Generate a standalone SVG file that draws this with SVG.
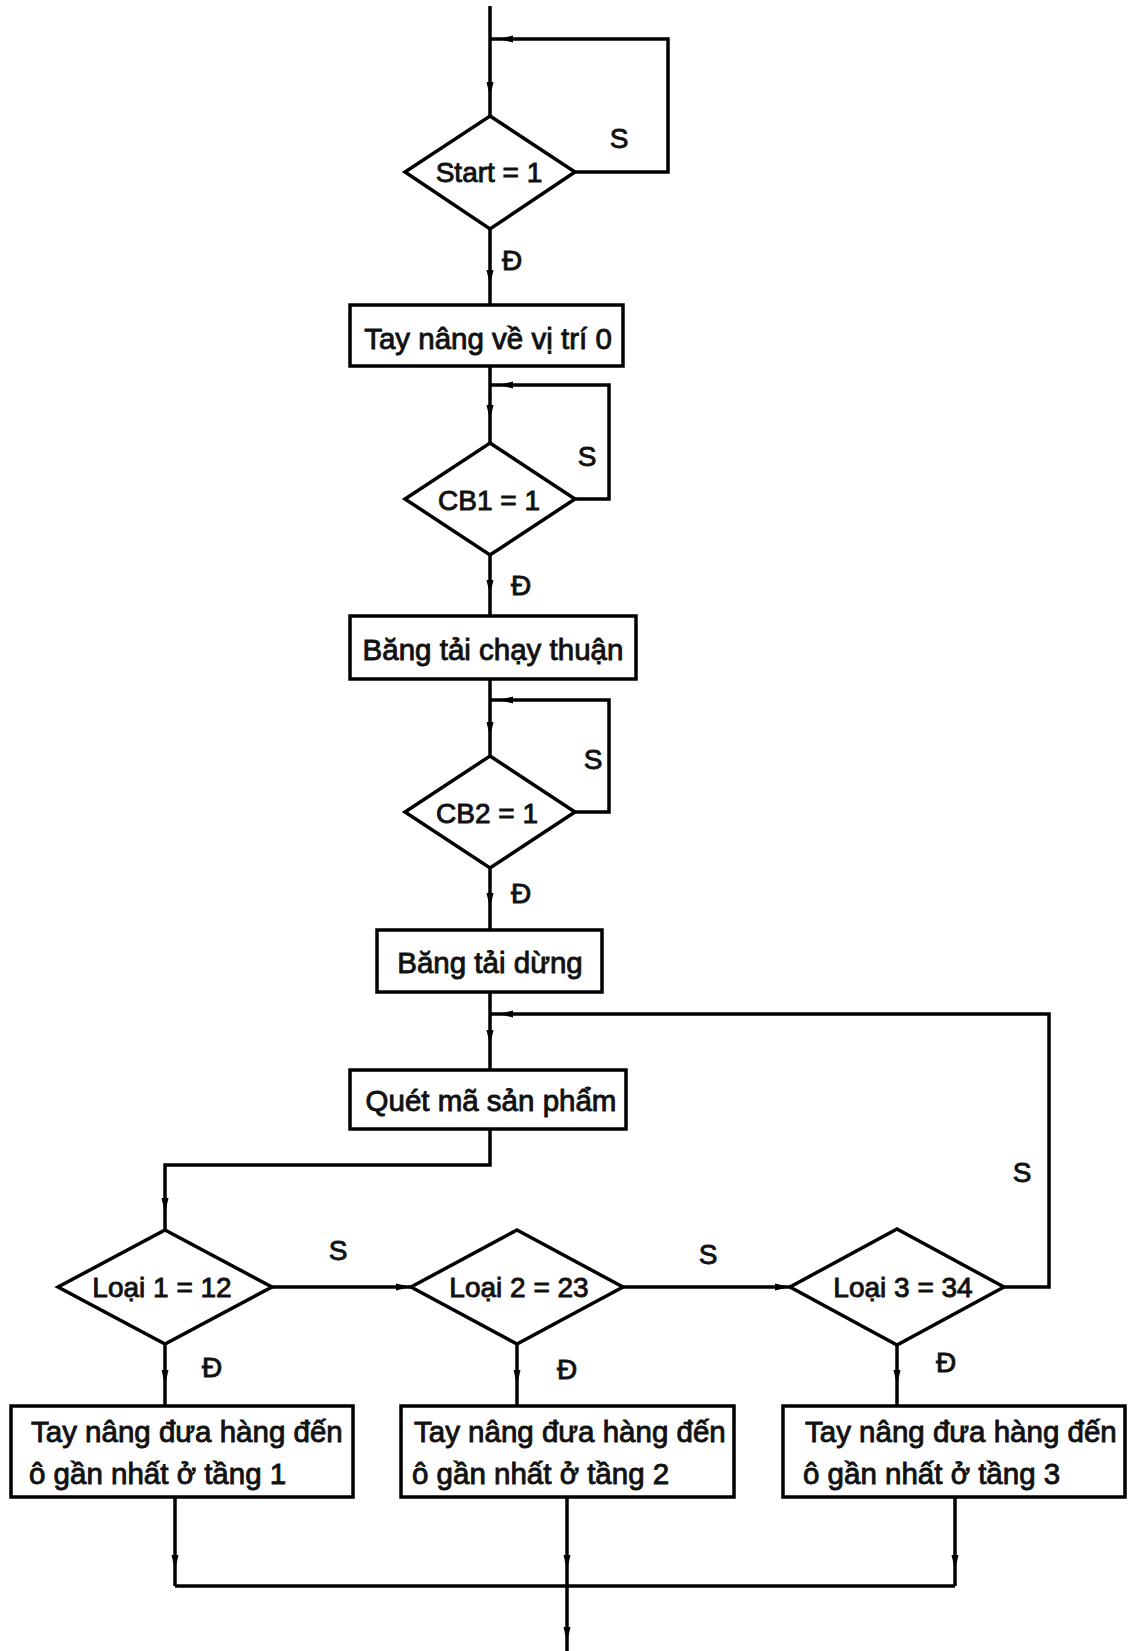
<svg xmlns="http://www.w3.org/2000/svg" width="1128" height="1651" viewBox="0 0 1128 1651">
<style>
.shape{fill:#fff;stroke:#000;stroke-width:3.5;stroke-linejoin:miter}
.c{fill:none;stroke:#000;stroke-width:3.5}
.t{font-family:"Liberation Sans",Arial,sans-serif;font-size:28px;fill:#111;stroke:#111;stroke-width:0.9}
.b{font-size:29.5px}
.m{text-anchor:middle}
</style>
<defs>
<marker id="ah" markerUnits="userSpaceOnUse" markerWidth="16" markerHeight="8" refX="15" refY="4" orient="auto" viewBox="0 0 16 8">
<path d="M0,0.5 L15,4 L0,7.5 z" fill="#000"/>
</marker>
<marker id="ahOff" markerUnits="userSpaceOnUse" markerWidth="24" markerHeight="8" refX="23" refY="4" orient="auto" viewBox="0 0 24 8">
<path d="M0,0.5 L15,4 L0,7.5 z" fill="#000"/>
</marker>
</defs>
<rect width="1128" height="1651" fill="#fff"/>
<g id="connectors">
<path class="c" d="M490,6 V97 V116" marker-mid="url(#ah)"/>
<path class="c" d="M575,172 H668 V39 H490" marker-end="url(#ahOff)"/>
<path class="c" d="M490,229 V285 V305" marker-mid="url(#ah)"/>
<path class="c" d="M490,366 V420 V443" marker-mid="url(#ah)"/>
<path class="c" d="M575,499 H609 V385 H490" marker-end="url(#ahOff)"/>
<path class="c" d="M490,555 V595 V616" marker-mid="url(#ah)"/>
<path class="c" d="M490,679 V737 V756" marker-mid="url(#ah)"/>
<path class="c" d="M575,812 H609 V700 H490" marker-end="url(#ahOff)"/>
<path class="c" d="M490,868 V908 V930" marker-mid="url(#ah)"/>
<path class="c" d="M490,992 V1045 V1070" marker-mid="url(#ah)"/>
<path class="c" d="M1004,1287 H1049 V1014 H490" marker-end="url(#ahOff)"/>
<path class="c" d="M490,1129 V1165 H165 V1200"/>
<path class="c" d="M165,1198 V1213 V1230" marker-mid="url(#ah)"/>
<path class="c" d="M272,1287 H411" marker-end="url(#ah)"/>
<path class="c" d="M623,1287 H790" marker-end="url(#ah)"/>
<path class="c" d="M165,1344 V1385 V1406" marker-mid="url(#ah)"/>
<path class="c" d="M517,1344 V1385 V1406" marker-mid="url(#ah)"/>
<path class="c" d="M897,1345 V1385 V1406" marker-mid="url(#ah)"/>
<path class="c" d="M175,1497 V1570 V1586" marker-mid="url(#ah)"/>
<path class="c" d="M955,1497 V1570 V1586" marker-mid="url(#ah)"/>
<path class="c" d="M175,1586 H955"/>
<path class="c" d="M567,1497 V1570 V1642 V1651" marker-mid="url(#ah)"/>
<text class="t m" x="619" y="148">S</text>
<text class="t m" x="512" y="270">Đ</text>
<text class="t m" x="587" y="466">S</text>
<text class="t m" x="521" y="595">Đ</text>
<text class="t m" x="593" y="769">S</text>
<text class="t m" x="521" y="903">Đ</text>
<text class="t m" x="1022" y="1182">S</text>
<text class="t m" x="338" y="1260">S</text>
<text class="t m" x="708" y="1264">S</text>
<text class="t m" x="212" y="1377">Đ</text>
<text class="t m" x="567" y="1379">Đ</text>
<text class="t m" x="946" y="1372">Đ</text>
</g>
<g id="start">
<polygon class="shape" points="490,116 575,172 490,229 405,172"/>
<text class="t m" x="489" y="182">Start = 1</text>
</g>
<g id="box1">
<rect class="shape" x="350" y="305" width="273" height="61"/>
<text class="t b m" x="488" y="349">Tay nâng về vị trí 0</text>
</g>
<g id="cb1">
<polygon class="shape" points="490,443 575,499 490,555 405,499"/>
<text class="t m" x="489" y="510">CB1 = 1</text>
</g>
<g id="box2">
<rect class="shape" x="350" y="616" width="286" height="63"/>
<text class="t b m" x="493" y="660">Băng tải chạy thuận</text>
</g>
<g id="cb2">
<polygon class="shape" points="490,756 575,812 490,868 405,812"/>
<text class="t m" x="487" y="823">CB2 = 1</text>
</g>
<g id="box3">
<rect class="shape" x="377" y="930" width="225" height="62"/>
<text class="t b m" x="490" y="973">Băng tải dừng</text>
</g>
<g id="box4">
<rect class="shape" x="350" y="1070" width="276" height="59"/>
<text class="t b m" x="491" y="1111">Quét mã sản phẩm</text>
</g>
<g id="loai1">
<polygon class="shape" points="165,1230 272,1287 165,1344 58,1287"/>
<text class="t m" x="162" y="1297">Loại 1 = 12</text>
</g>
<g id="loai2">
<polygon class="shape" points="517,1230 623,1287 517,1344 411,1287"/>
<text class="t m" x="519" y="1297">Loại 2 = 23</text>
</g>
<g id="loai3">
<polygon class="shape" points="897,1229 1004,1287 897,1345 790,1287"/>
<text class="t m" x="903" y="1297">Loại 3 = 34</text>
</g>
<g id="box5">
<rect class="shape" x="11" y="1406" width="342" height="91"/>
<text class="t b" x="31" y="1442">Tay nâng đưa hàng đến</text>
<text class="t b" x="29" y="1484">ô gần nhất ở tầng 1</text>
</g>
<g id="box6">
<rect class="shape" x="401" y="1406" width="333" height="91"/>
<text class="t b" x="414" y="1442">Tay nâng đưa hàng đến</text>
<text class="t b" x="412" y="1484">ô gần nhất ở tầng 2</text>
</g>
<g id="box7">
<rect class="shape" x="783" y="1406" width="342" height="91"/>
<text class="t b" x="805" y="1442">Tay nâng đưa hàng đến</text>
<text class="t b" x="803" y="1484">ô gần nhất ở tầng 3</text>
</g>
</svg>
